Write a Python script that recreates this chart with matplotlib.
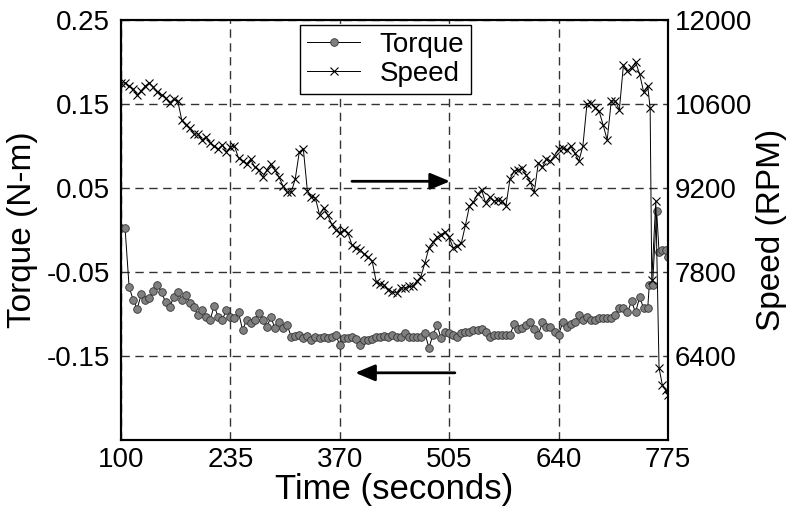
import matplotlib
matplotlib.use("Agg")
import matplotlib.pyplot as plt

plt.rcParams['font.family'] = ['Liberation Sans', 'DejaVu Sans']

# torque samples (time in s, torque in N-m)
t_torque = [100, 105, 110, 115, 120, 125, 130, 135, 140, 145, 150, 155, 160, 165, 170,
            175, 180, 185, 190, 195, 200, 205, 210, 215, 220, 225, 230, 235, 240, 245,
            250, 255, 260, 265, 270, 275, 280, 285, 290, 295, 300, 305, 310, 315, 320,
            325, 330, 335, 340, 345, 350, 355, 360, 365, 370, 375, 380, 385, 390, 395,
            400, 405, 410, 415, 420, 425, 430, 435, 440, 445, 450, 455, 460, 465, 470,
            475, 480, 485, 490, 495, 500, 505, 510, 515, 520, 525, 530, 535, 540, 545,
            550, 555, 560, 565, 570, 575, 580, 585, 590, 595, 600, 605, 610, 615, 620,
            625, 630, 635, 640, 645, 650, 655, 660, 665, 670, 675, 680, 685, 690, 695,
            700, 705, 710, 715, 720, 725, 730, 735, 740, 745, 750, 752, 756, 761, 764,
            768, 772, 775]
torque = [0.002, 0.002, -0.068, -0.083, -0.094, -0.076, -0.083, -0.081, -0.073, -0.065,
          -0.074, -0.086, -0.092, -0.080, -0.074, -0.083, -0.077, -0.087, -0.092, -0.101,
          -0.095, -0.104, -0.107, -0.090, -0.104, -0.107, -0.095, -0.104, -0.105, -0.098,
          -0.119, -0.107, -0.111, -0.107, -0.099, -0.107, -0.115, -0.104, -0.117, -0.110,
          -0.117, -0.113, -0.127, -0.126, -0.125, -0.129, -0.126, -0.131, -0.127, -0.128,
          -0.127, -0.129, -0.127, -0.125, -0.137, -0.129, -0.128, -0.127, -0.130, -0.137,
          -0.131, -0.131, -0.130, -0.127, -0.127, -0.126, -0.127, -0.125, -0.127, -0.127,
          -0.123, -0.127, -0.127, -0.127, -0.127, -0.123, -0.140, -0.125, -0.113, -0.129,
          -0.121, -0.123, -0.125, -0.127, -0.123, -0.121, -0.121, -0.119, -0.119, -0.118,
          -0.121, -0.127, -0.125, -0.125, -0.125, -0.125, -0.125, -0.112, -0.118, -0.117,
          -0.113, -0.110, -0.118, -0.125, -0.110, -0.115, -0.115, -0.121, -0.125, -0.110,
          -0.115, -0.112, -0.110, -0.101, -0.107, -0.104, -0.107, -0.107, -0.105, -0.105,
          -0.105, -0.105, -0.101, -0.093, -0.093, -0.098, -0.085, -0.098, -0.080, -0.093,
          -0.093, -0.065, -0.065, 0.023, -0.026, -0.024, -0.024, -0.032]

# speed samples (time in s, speed in RPM)
t_speed = [100, 105, 110, 115, 120, 125, 130, 135, 140, 145, 150, 155, 160, 165, 170,
           175, 180, 185, 190, 195, 200, 205, 210, 215, 220, 225, 230, 235, 240, 245,
           250, 255, 260, 265, 270, 275, 280, 285, 290, 295, 300, 305, 310, 315, 320,
           325, 330, 335, 340, 345, 350, 355, 360, 365, 370, 375, 380, 385, 390, 395,
           400, 405, 410, 415, 420, 425, 430, 435, 440, 445, 450, 455, 460, 465, 470,
           475, 480, 485, 490, 495, 500, 505, 510, 515, 520, 525, 530, 535, 540, 545,
           550, 555, 560, 565, 570, 575, 580, 585, 590, 595, 600, 605, 610, 615, 620,
           625, 630, 635, 640, 645, 650, 655, 660, 665, 670, 675, 680, 685, 690, 695,
           700, 705, 710, 715, 720, 725, 730, 735, 740, 745, 750, 753, 755, 760, 764,
           768, 772, 775]
speed = [10950, 10950, 10900, 10850, 10750, 10820, 10900, 10950, 10880, 10800,
         10750, 10700, 10620, 10680, 10650, 10330, 10250, 10200, 10100, 10100,
         10000, 10050, 9950, 9900, 9850, 9920, 9800, 9880, 9900, 9700,
         9650, 9600, 9680, 9550, 9500, 9380, 9500, 9600, 9500, 9380,
         9230, 9130, 9130, 9350, 9800, 9850, 9150, 9050, 9030, 8750,
         8870, 8750, 8600, 8500, 8450, 8500, 8450, 8250, 8200, 8170,
         8100, 8050, 7980, 7630, 7600, 7580, 7500, 7470, 7450, 7540,
         7530, 7560, 7560, 7650, 7720, 7950, 8200, 8300, 8380, 8420,
         8470, 8380, 8200, 8230, 8280, 8580, 8900, 8970, 9100, 9170,
         8950, 9050, 8980, 9000, 8980, 8900, 9350, 9480, 9500, 9530,
         9420, 9300, 9130, 9620, 9550, 9680, 9650, 9740, 9850, 9870,
         9830, 9900, 9780, 9650, 9900, 10600, 10620, 10530, 10480, 10250,
         10000, 10650, 10650, 10500, 11250, 11150, 11200, 11300, 11100, 10800,
         10900, 10530, 7670, 8980, 6200, 5920, 5830, 5750]

x_ticks = [100, 235, 370, 505, 640, 775]
torque_ticks = [0.25, 0.15, 0.05, -0.05, -0.15, -0.25]
torque_labels = ['0.25', '0.15', '0.05', '-0.05', '-0.15', '']
speed_ticks = [12000, 10600, 9200, 7800, 6400, 5000]
speed_labels = ['12000', '10600', '9200', '7800', '6400', '']

fig = plt.figure(figsize=(7.92, 5.17), dpi=100)
ax = fig.add_axes([0.1528, 0.1489, 0.6906, 0.8124])
ax2 = ax.twinx()

h1, = ax.plot(t_torque, torque, '-o', color='k', lw=0.7, ms=5.5,
              mfc='#808080', mec='#333333', mew=0.6, label='Torque')
h2, = ax2.plot(t_speed, speed, '-x', color='k', lw=0.7, ms=6, mew=0.8,
               label='Speed')

ax.set_xlim(100, 775)
ax.set_ylim(-0.25, 0.25)
ax2.set_ylim(5000, 12000)
ax.set_xticks(x_ticks)
ax.set_yticks(torque_ticks)
ax.set_yticklabels(torque_labels)
ax2.set_yticks(speed_ticks)
ax2.set_yticklabels(speed_labels)

ax.grid(True, color='#333333', ls=(0, (6, 4)), lw=1.0)
ax.tick_params(axis='x', direction='in', length=0, labelsize=20, pad=5)
ax.tick_params(axis='y', direction='in', length=0, labelsize=20, pad=8)
ax2.tick_params(axis='y', direction='in', length=0, labelsize=20, pad=5)
for a in (ax, ax2):
    for s in a.spines.values():
        s.set_linewidth(1.5)

ax.set_xlabel('Time (seconds)', fontsize=25, labelpad=0)
ax.set_ylabel('Torque (N-m)', fontsize=24, labelpad=6)
ax2.set_ylabel('Speed (RPM)', fontsize=24, labelpad=3)

# direction arrows
ax.annotate('', xy=(506, 0.058), xytext=(385, 0.058),
            arrowprops=dict(arrowstyle='-|>,head_length=1.2,head_width=0.5',
                            color='k', lw=2, shrinkA=0, shrinkB=0))
ax.annotate('', xy=(389, -0.170), xytext=(512, -0.170),
            arrowprops=dict(arrowstyle='-|>,head_length=1.2,head_width=0.5',
                            color='k', lw=2, shrinkA=0, shrinkB=0))

leg = ax2.legend([h1, h2], ['Torque', 'Speed'], loc='upper center',
                 bbox_to_anchor=(0.484, 0.988), borderaxespad=0, fontsize=20,
                 fancybox=False, framealpha=1, edgecolor='k', handlelength=1.9,
                 labelspacing=0.1, borderpad=0.25, handletextpad=0.7)
leg.get_frame().set_linewidth(1.0)

fig.savefig('out.png', dpi=100)
